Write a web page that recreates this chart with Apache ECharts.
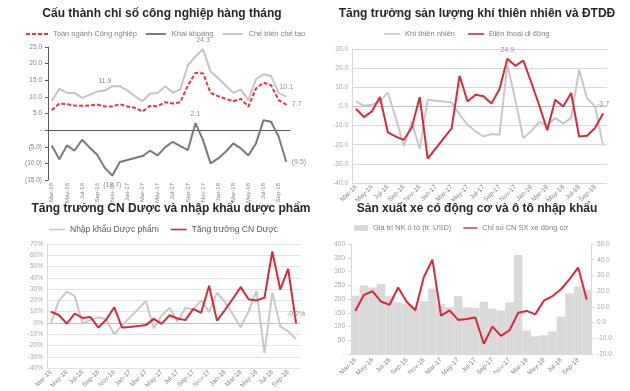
<!DOCTYPE html>
<html>
<head>
<meta charset="utf-8">
<script src="https://cdn.jsdelivr.net/npm/echarts@6/dist/echarts.min.js"></script>
<style>
html,body{margin:0;padding:0;background:#fff;}
#c{width:630px;height:391px;}
</style>
</head>
<body>
<div id="c"></div>
<script>
// ---------- data ----------
const months = ['Mar-16','Apr-16','May-16','Jun-16','Jul-16','Aug-16','Sep-16','Oct-16','Nov-16','Dec-16',
  'Jan-17','Feb-17','Mar-17','Apr-17','May-17','Jun-17','Jul-17','Aug-17','Sep-17','Oct-17','Nov-17','Dec-17',
  'Jan-18','Feb-18','Mar-18','Apr-18','May-18','Jun-18','Jul-18','Aug-18','Sep-18','Oct-18'];
const months4 = ['Mar-16','Apr-16','May-16','Jun-16','Jul-16','Aug-16','Sep-16','Oct-16','Nov-16','Dec-16',
  'Mar-17','Apr-17','May-17','Jun-17','Jul-17','Aug-17','Sep-17','Oct-17','Nov-17','Dec-17',
  'Mar-18','Apr-18','May-18','Jun-18','Jul-18','Aug-18','Sep-18','Oct-18'];

// Panel 1
const toanNganh = [6.0,8.0,7.8,7.4,7.3,7.4,7.7,7.1,7.1,7.8,7.1,6.7,5.6,7.3,7.2,8.4,8.0,8.4,13.5,17.2,17.1,11.2,10.2,9.4,8.7,9.4,7.1,12.5,14.3,13.5,9.0,7.7];
const khaiKhoang = [-4.6,-8.8,-4.6,-6.2,-2.9,-5.2,-7.4,-11.3,-13.7,-9.6,-9.0,-8.4,-7.8,-6.2,-7.6,-5.1,-3.5,-4.8,-6.0,2.1,-3.0,-10.0,-8.5,-6.5,-4.0,-5.5,-7.6,-4.0,3.0,2.5,-2.0,-9.5];
const cheBien = [8.8,12.4,11.2,11.2,9.7,10.6,11.6,11.9,13.2,13.2,11.9,10.2,8.7,11.0,11.2,13.2,11.3,12.3,19.6,22.1,24.3,17.6,15.6,13.4,11.2,12.2,9.0,15.3,16.8,16.3,11.2,10.1];

// Panel 2
const khiThienNhien = [2.6,0.3,0.9,2.5,7.3,-6.0,-20.9,-8.0,-22.3,3.5,3.0,2.6,2.0,-4.3,-9.6,-13.0,-15.7,-14.4,-14.8,21.7,3.5,-16.5,-13.0,-8.0,-10.0,-6.0,-9.0,-6.0,19.1,4.3,0.0,-20.5];
const dienThoai = [-1.2,-5.6,-2.6,4.9,-13.5,-15.8,-17.5,-11.0,4.9,-27.3,-22.0,-16.7,-11.5,16.0,2.6,6.1,5.3,1.5,9.0,24.9,21.2,24.0,12.5,0.5,-12.4,3.5,0.0,7.0,-15.7,-15.3,-11.3,-3.7];

// Panel 3
const nhapKhauDuoc = [0.0,19.5,27.7,24.0,-0.5,2.5,5.0,3.0,-10.0,-2.0,5.0,12.0,19.5,-4.7,6.5,13.5,1.0,13.5,12.0,20.0,9.6,26.8,18.6,7.7,-3.8,10.4,28.2,-26.6,26.8,-3.0,-7.4,-14.2];
const cnDuoc = [9.9,7.1,-0.5,8.2,4.4,5.2,-4.1,3.0,14.0,-4.1,-3.5,-2.8,-1.9,3.6,-0.8,6.8,4.0,2.5,12.5,9.0,33.0,2.0,11.5,21.5,31.8,21.0,20.0,22.3,63.5,29.6,48.0,-0.2];

// Panel 4
const nkOto = [212,250,242,255,210,188,182,168,192,238,182,170,210,170,168,190,165,158,188,360,85,64,68,82,136,220,245,232];
const xeDongCo = [7.4,17.5,20.0,13.4,11.3,22.3,13.2,7.8,29.0,40.0,4.4,7.8,1.7,2.3,3.2,-13.5,-2.6,-8.5,-4.9,6.2,7.4,5.2,13.9,16.8,21.2,27.7,35.0,14.7];

// ---------- helpers ----------
const FONT = 'Liberation Sans';
const RED = '#d42a3c';
const LINE_ICON = 'path://M0,0H20V2H0Z';
const DASH_ICON = 'path://M0,0H4V2H0Z M6,0H10V2H6Z M12,0H16V2H12Z M18,0H22V2H18Z';
function paren(v){ return v < 0 ? '(' + Math.abs(v).toFixed(1) + ')' : v.toFixed(1); }
function withLabels(arr, marks){
  return arr.map((v, i) => marks[i] ? {
    value: v, symbol: 'circle', symbolSize: 1,
    label: Object.assign({show: true, color: '#8c8c8c', fontSize: 7, fontFamily: FONT}, marks[i])
  } : v);
}
function catAxis(grid, data, rotate, extra){
  return Object.assign({
    type: 'category', gridIndex: grid, data: data, boundaryGap: true,
    axisLine: {onZero: true, lineStyle: {color: '#bfbfbf', width: 1}},
    axisTick: {show: false},
    axisLabel: {rotate: rotate, interval: 1, fontSize: 6.5, color: '#7f7f7f', fontFamily: FONT, margin: 3}
  }, extra || {});
}
const legendText = {fontSize: 7.5, color: '#7f7f7f', fontFamily: FONT};
const titleStyle = {fontSize: 12, fontWeight: 'bold', color: '#262626', fontFamily: FONT};
const lineBase = {type: 'line', symbol: 'none', showAllSymbol: true, labelLayout: {hideOverlap: false}};

const chart = echarts.init(document.getElementById('c'), null, {renderer: 'canvas'});
chart.setOption({
  animation: false,
  backgroundColor: '#ffffff',
  textStyle: {fontFamily: FONT},
  title: [
    {text: 'Cấu thành chỉ số công nghiệp hàng tháng', left: 157, top: 3, textAlign: 'center', textStyle: titleStyle},
    {text: 'Tăng trưởng sản lượng khí thiên nhiên và ĐTDĐ', left: 472, top: 3, textAlign: 'center', textStyle: titleStyle},
    {text: 'Tăng trưởng CN Dược và nhập khẩu dược phẩm', left: 166, top: 198, textAlign: 'center', textStyle: titleStyle},
    {text: 'Sản xuất xe có động cơ và ô tô nhập khẩu', left: 472, top: 198, textAlign: 'center', textStyle: titleStyle}
  ],
  legend: [
    {data: [{name: 'Toàn ngành Công nghiệp', icon: DASH_ICON}, {name: 'Khai khoáng', icon: LINE_ICON}, {name: 'Chế biến chế tạo', icon: LINE_ICON}],
     left: 26, top: 30, itemWidth: 22, itemHeight: 2, itemGap: 9, textStyle: legendText, padding: 0},
    {data: [{name: 'Khí thiên nhiên', icon: LINE_ICON}, {name: 'Điện thoại di động', icon: LINE_ICON}],
     left: 384, top: 30, itemWidth: 16, itemHeight: 2, itemGap: 13, textStyle: legendText, padding: 0},
    {data: [{name: 'Nhập khẩu Dược phẩm', icon: LINE_ICON}, {name: 'Tăng trưởng CN Dược', icon: LINE_ICON}],
     left: 49, top: 225, itemWidth: 16, itemHeight: 2, itemGap: 12, textStyle: {fontSize: 8.5, color: '#595959', fontFamily: FONT}, padding: 0},
    {data: [{name: 'Giá trị NK ô tô (tr. USD)', icon: 'rect'}, {name: 'Chỉ số CN SX xe động cơ', icon: LINE_ICON}],
     left: 354, top: 224, itemWidth: 14, itemHeight: 6, itemGap: 12, textStyle: legendText, padding: 0}
  ],
  grid: [
    {left: 48, top: 47, width: 242, height: 133},
    {left: 352, top: 49, width: 255, height: 134},
    {left: 47, top: 244, width: 253, height: 134},
    {left: 351, top: 244, width: 240, height: 110}
  ],
  xAxis: [
    catAxis(0, months, 90, {axisLine: {onZero: true, lineStyle: {color: '#595959', width: 1}}, axisLabel: {rotate: 90, interval: 1, fontSize: 6, color: '#7f7f7f', fontFamily: FONT, margin: 3}}),
    catAxis(1, months, 45),
    catAxis(2, months, 45),
    catAxis(3, months4, 45, {axisLine: {onZero: false, lineStyle: {color: '#d9d9d9'}}, axisLabel: {rotate: 45, interval: 1, fontSize: 6.5, color: '#7f7f7f', fontFamily: FONT, margin: 5}})
  ],
  yAxis: [
    {type: 'value', gridIndex: 0, min: -15, max: 25, interval: 5,
     axisLine: {show: true, lineStyle: {color: '#595959'}}, axisTick: {show: true, length: 3}, splitLine: {show: false},
     axisLabel: {fontSize: 6.5, color: '#7f7f7f', fontFamily: FONT, margin: 6, formatter: v => v === 0 ? '-' : paren(v)}},
    {type: 'value', gridIndex: 1, min: -40, max: 30, interval: 10,
     axisLine: {show: true, lineStyle: {color: '#d9d9d9'}}, axisTick: {show: false},
     splitLine: {show: true, lineStyle: {color: '#d9d9d9', width: 1}},
     axisLabel: {fontSize: 6.5, color: '#a6a6a6', fontFamily: FONT, margin: 4, formatter: v => v.toFixed(1)}},
    {type: 'value', gridIndex: 2, min: -40, max: 70, interval: 10,
     axisLine: {show: true, lineStyle: {color: '#d9d9d9'}}, axisTick: {show: false},
     splitLine: {show: true, lineStyle: {color: '#e3e3e3', width: 1}},
     axisLabel: {fontSize: 6.5, color: '#a6a6a6', fontFamily: FONT, margin: 4, formatter: v => v + '%'}},
    {type: 'value', gridIndex: 3, min: 0, max: 400, interval: 50, position: 'left',
     axisLine: {show: true, lineStyle: {color: '#d9d9d9'}}, axisTick: {show: true, length: 3}, splitLine: {show: false},
     axisLabel: {fontSize: 6.5, color: '#a6a6a6', fontFamily: FONT, margin: 6, formatter: v => v === 0 ? '-' : String(v)}},
    {type: 'value', gridIndex: 3, min: -20, max: 50, interval: 10, position: 'right',
     axisLine: {show: true, lineStyle: {color: '#d9d9d9'}}, axisTick: {show: true, length: 3}, splitLine: {show: false},
     axisLabel: {fontSize: 6.5, color: '#a6a6a6', fontFamily: FONT, margin: 6, formatter: v => v.toFixed(1)}}
  ],
  series: [
    Object.assign({}, lineBase, {name: 'Chế biến chế tạo', xAxisIndex: 0, yAxisIndex: 0, z: 2,
     lineStyle: {color: '#c4c4c4', width: 2}, itemStyle: {color: '#c4c4c4'},
     data: withLabels(cheBien, {7: {position: 'top', formatter: p => p.value.toFixed(1)}, 20: {position: 'top', formatter: p => p.value.toFixed(1)}, 31: {position: 'top', offset: [4, 0], formatter: p => p.value.toFixed(1)}})}),
    Object.assign({}, lineBase, {name: 'Toàn ngành Công nghiệp', xAxisIndex: 0, yAxisIndex: 0, z: 3,
     lineStyle: {color: '#e0393e', width: 2, type: [4, 2]}, itemStyle: {color: '#e0393e'},
     data: withLabels(toanNganh, {31: {position: 'right', offset: [4, 0], formatter: p => p.value.toFixed(1)}})}),
    Object.assign({}, lineBase, {name: 'Khai khoáng', xAxisIndex: 0, yAxisIndex: 0, z: 3,
     lineStyle: {color: '#7a7a7a', width: 2}, itemStyle: {color: '#7a7a7a'},
     data: withLabels(khaiKhoang, {8: {position: 'bottom', formatter: p => paren(p.value)}, 19: {position: 'top', formatter: p => paren(p.value)}, 31: {position: 'right', offset: [4, 0], formatter: p => paren(p.value)}})}),

    Object.assign({}, lineBase, {name: 'Khí thiên nhiên', xAxisIndex: 1, yAxisIndex: 1, z: 2,
     lineStyle: {color: '#c8c8c8', width: 2}, itemStyle: {color: '#c8c8c8'}, data: khiThienNhien}),
    Object.assign({}, lineBase, {name: 'Điện thoại di động', xAxisIndex: 1, yAxisIndex: 1, z: 3,
     lineStyle: {color: RED, width: 2}, itemStyle: {color: RED},
     data: withLabels(dienThoai, {19: {position: 'top', formatter: p => p.value.toFixed(1)}, 31: {position: 'top', offset: [2, -4], formatter: p => p.value.toFixed(1)}})}),

    Object.assign({}, lineBase, {name: 'Nhập khẩu Dược phẩm', xAxisIndex: 2, yAxisIndex: 2, z: 2,
     lineStyle: {color: '#c8c8c8', width: 2}, itemStyle: {color: '#c8c8c8'}, data: nhapKhauDuoc}),
    Object.assign({}, lineBase, {name: 'Tăng trưởng CN Dược', xAxisIndex: 2, yAxisIndex: 2, z: 3,
     lineStyle: {color: RED, width: 2}, itemStyle: {color: RED},
     data: withLabels(cnDuoc, {31: {position: 'top', offset: [0, -2], formatter: p => p.value.toFixed(1) + '%'}})}),

    {name: 'Giá trị NK ô tô (tr. USD)', type: 'bar', xAxisIndex: 3, yAxisIndex: 3, barCategoryGap: '0%', z: 1,
     itemStyle: {color: '#d9d9d9'}, data: nkOto},
    Object.assign({}, lineBase, {name: 'Chỉ số CN SX xe động cơ', xAxisIndex: 3, yAxisIndex: 4, z: 3,
     lineStyle: {color: RED, width: 2}, itemStyle: {color: RED}, data: xeDongCo})
  ]
});
</script>
</body>
</html>
